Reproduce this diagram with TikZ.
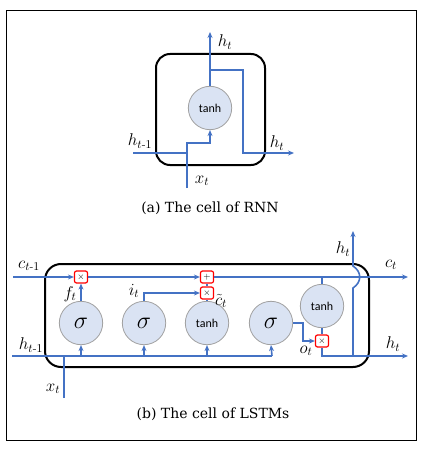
\RequirePackage{fix-cm}
\documentclass[tikz,border=0pt]{standalone}
\usepackage{amsmath}
\usepackage{fontspec}
\newfontfamily\capfont{DejaVu Serif}
\newfontfamily\tanhfont{Carlito}
\usetikzlibrary{arrows.meta}
\definecolor{lblue}{RGB}{68,114,196}
\definecolor{cfill}{RGB}{218,227,243}
\definecolor{cgray}{RGB}{160,160,160}
\definecolor{bred}{RGB}{255,0,0}
\tikzset{
  wire/.style={draw=lblue, line width=1.6pt},
  arr/.style={wire, -{Stealth[length=6pt,width=5pt]}},
  gate/.style={circle, draw=cgray, fill=cfill, line width=0.8pt, minimum size=43.4pt, inner sep=0pt},
  opbox/.style={draw=bred, fill=white, rounded corners=2pt, line width=1.2pt, minimum width=13pt, minimum height=12pt, inner sep=0pt, font=\fontsize{9}{9}\selectfont},
  cell/.style={draw=black, line width=2pt},
  lab/.style={inner sep=0pt, font=\fontsize{17}{20}\selectfont},
  captxt/.style={inner sep=0pt, font=\capfont\fontsize{14}{16}\selectfont},
  tanhtxt/.style={font=\tanhfont\fontsize{12}{12}\selectfont},
  sig/.style={font=\fontsize{24}{24}\selectfont}
}
\begin{document}
\begin{tikzpicture}[x=1pt,y=-1pt]
\useasboundingbox (0,0) rectangle (425,449);
\draw[line width=1pt] (6,11) rectangle (416,440);

% ---------- (a) RNN ----------
\draw[cell, rounded corners=14pt] (156,54) rectangle (265,165);
\node[gate, tanhtxt] (tA) at (210,108) {tanh};
\coordinate (topA) at (210,32);
\coordinate (brA) at (210,70);
\coordinate (outA) at (294,153);
\coordinate (xA) at (187,188);
\coordinate (hinA) at (133,153);
\coordinate (jA) at (187,153);
\draw[arr] (tA.north) -- (topA);
\draw[arr] (brA) -- (243,70) -- (243,153) -- (outA);
\draw[arr] (xA) -- (187,143) -- (210,143) -- (tA.south);
\draw[wire] (hinA) -- (jA);
\node[lab] (htA) at (225,42) {$h_t$};
\node[lab] (htA2) at (277,143) {$h_t$};
\node[lab] (xtA) at (202,181) {$x_t$};
\node[lab] (hmA) at (140,141) {$h_{t\text{-}1}$};
\node[captxt] (capA) at (210,208) {(a) The cell of RNN};

% ---------- (b) LSTM ----------
\draw[cell, rounded corners=16pt] (45,264) rectangle (369,367);
\node[gate, sig] (sf) at (81,323) {$\sigma$};
\node[gate, sig] (si) at (144,323) {$\sigma$};
\node[gate, tanhtxt] (tc) at (207,323) {tanh};
\node[gate, sig] (so) at (271,323) {$\sigma$};
\node[gate, tanhtxt] (tcc) at (322,306) {tanh};
\node[opbox] (mf) at (81,277) {$\times$};
\node[opbox] (pl) at (207,277) {$+$};
\node[opbox] (mi) at (207,293) {$\times$};
\node[opbox] (mo) at (322,341) {$\times$};

\coordinate (cin) at (13,277);
\coordinate (cout) at (408,277);
\coordinate (hin) at (12,356);
\coordinate (hout) at (408,356);
\coordinate (xin) at (64,398);
\coordinate (htop) at (353,231);

% cell state line
\draw[arr] (cin) -- (mf.west);
\draw[arr] (mf.east) -- (pl.west);
\draw[arr] (pl.east) -- (cout);
% hidden input line
\draw[wire] (hin) -- (272,356);
\draw[arr] (272,356) -- (so.south);
\draw[arr] (81,356) -- (sf.south);
\draw[arr] (144,356) -- (si.south);
\draw[arr] (207,356) -- (tc.south);
\draw[wire] (xin) -- (64,356);
% gates
\draw[arr] (sf.north) -- (mf.south);
\draw[arr] (si.north) -- (144,293) -- (mi.west);
\draw[wire] (tc.north) -- (mi.south);
\draw[wire] (mi.north) -- (pl.south);
\draw[wire] (322,277) -- (tcc.north);
\draw[wire] (tcc.south) -- (mo.north);
\draw[arr] (so.east) -- (303,323) -- (303,341) -- (mo.west);
\draw[arr] (mo.south) -- (322,356) -- (hout);
\draw[arr] (353,356) -- (353,288) .. controls (362,282) and (362,272) .. (353,266) -- (htop);

\node[lab] (ctm) at (29,266) {$c_{t\text{-}1}$};
\node[lab] (htm) at (31,345) {$h_{t\text{-}1}$};
\node[lab] (xtB) at (53,389) {$x_t$};
\node[lab] (ftB) at (70,294) {$f_t$};
\node[lab] (itB) at (134,291) {$i_t$};
\node[lab] (ctt) at (221,301) {$\tilde{c}_t$};
\node[lab] (otB) at (306,351) {$o_t$};
\node[lab] (ctB) at (391,265) {$c_t$};
\node[lab] (htB) at (393,344) {$h_t$};
\node[lab] (htB2) at (343,249) {$h_t$};
\node[captxt] (capB) at (213,414) {(b) The cell of LSTMs};
\end{tikzpicture}
\end{document}
